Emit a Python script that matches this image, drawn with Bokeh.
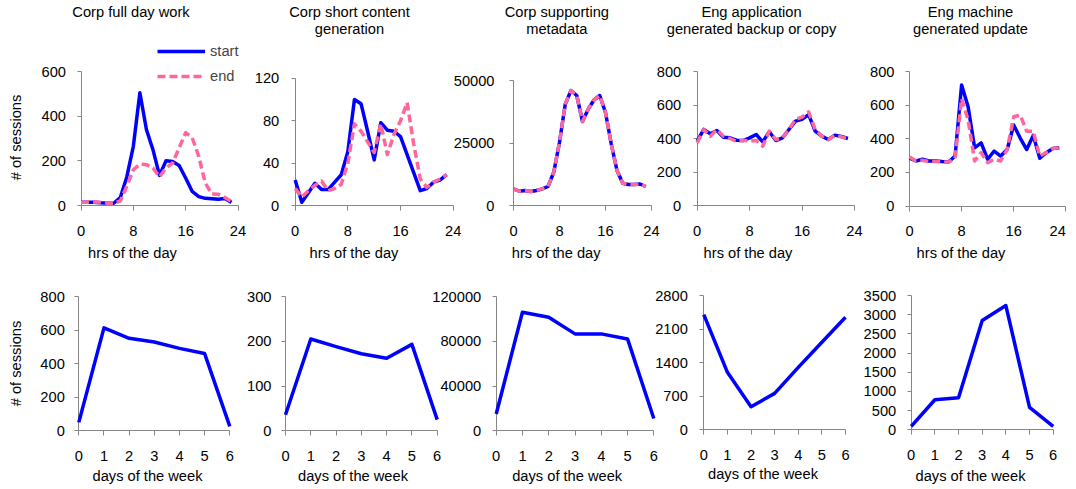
import math
from bokeh.plotting import figure
from bokeh.models import (Label, Legend, LegendItem, FixedTicker, BasicTickFormatter,
                          Range1d, LinearAxis)
from bokeh.embed import file_html
from bokeh.resources import INLINE

# ---------------- data ----------------
hours = list(range(24))
days = list(range(7))

titles = [
    ["Corp full day work"],
    ["Corp short content", "generation"],
    ["Corp supporting", "metadata"],
    ["Eng application", "generated backup or copy"],
    ["Eng machine", "generated update"],
]
x_title_top = "hrs of the day"
x_title_bottom = "days of the week"
y_title = "# of sessions"
legend_labels = ["start", "end"]

full_start = [15, 15, 15, 12, 10, 10, 35, 128, 265, 505, 340, 250, 135, 200, 197, 179, 123, 63, 40, 32, 30, 28, 31, 14]
full_end = [14, 15, 16, 15, 10, 10, 20, 86, 160, 185, 183, 168, 128, 168, 190, 258, 326, 303, 220, 100, 52, 50, 36, 18]

short_start = [24, 3, 12, 21, 15, 15, 22, 29, 51, 100, 96, 70, 43, 78, 71, 70, 65, 48, 31, 14, 16, 22, 24, 29]
short_end = [16, 8, 14, 19, 23, 14, 16, 20, 40, 77, 70, 60, 50, 77, 48, 67, 80, 97, 58, 25, 17, 22, 25, 29]

meta_start = [6650, 5700, 6000, 5600, 6000, 6650, 7600, 13300, 25300, 40500, 46000, 44000, 33600, 38600, 42200, 44000, 37200, 24600, 14000, 8900, 8400, 8400, 8600, 7600]
meta_end = [6650, 5700, 6000, 5600, 6000, 6650, 7600, 13300, 25300, 40500, 46000, 44000, 33600, 38600, 42200, 44000, 37200, 24600, 14000, 8900, 8400, 8400, 8600, 7600]

backup_start = [384, 454, 428, 448, 408, 404, 390, 388, 404, 424, 380, 440, 388, 404, 454, 504, 514, 543, 444, 414, 394, 420, 412, 400]
backup_end = [374, 454, 414, 454, 414, 400, 384, 390, 384, 388, 354, 444, 394, 404, 454, 514, 528, 559, 454, 414, 394, 418, 410, 398]

update_start = [284, 268, 278, 268, 268, 264, 262, 297, 720, 590, 346, 375, 278, 327, 297, 336, 482, 404, 336, 420, 284, 317, 342, 346]
update_end = [292, 268, 272, 264, 264, 262, 262, 284, 638, 512, 268, 317, 258, 278, 268, 336, 531, 541, 444, 444, 297, 317, 342, 346]

dow_full = [50, 613, 551, 529, 491, 460, 26]
dow_short = [36, 205, 188, 172, 162, 193, 25]
dow_meta = [15000, 106000, 101500, 86600, 86600, 82100, 11000]
dow_backup = [2403, 1198, 481, 759, 1303, 1825, 2347]
dow_update = [87, 783, 836, 2847, 3238, 583, 87]

top_series = [(full_start, full_end), (short_start, short_end), (meta_start, meta_end),
              (backup_start, backup_end), (update_start, update_end)]
bottom_series = [dow_full, dow_short, dow_meta, dow_backup, dow_update]

top_yticks = [[0, 200, 400, 600], [0, 40, 80, 120], [0, 25000, 50000],
              [0, 200, 400, 600, 800], [0, 200, 400, 600, 800]]
bottom_yticks = [[0, 200, 400, 600, 800], [0, 100, 200, 300], [0, 40000, 80000, 120000],
                 [0, 700, 1400, 2100, 2800], [0, 500, 1000, 1500, 2000, 2500, 3000, 3500]]
hour_ticks = [0, 8, 16, 24]
day_ticks = [0, 1, 2, 3, 4, 5, 6]

# ---------------- style / layout constants (page pixels) ----------------
BLUE = "#0000FF"
PINK = "#FF6699"
AXIS = "#868686"
FONT = "Liberation Sans"
FS = "11pt"

C_LEFT, C_RIGHT, C_TOP, C_BOTTOM = 0, 1072, 0, 486   # canvas on the page
TEXT_SHIFT = 5   # rendered text sits this far below the requested baseline

top_FL = [80.5, 294.7, 513.0, 696.7, 909.0]
top_FR = [237.5, 452.7, 651.0, 854.0, 1065.3]
top_FT = [71.0, 77.7, 80.0, 71.0, 71.0]
top_FB = [205.0, 205.0, 205.0, 205.0, 205.5]
top_standoff = [11, 12, 15, 12, 11]
top_title_x = [130.5, 349.0, 556.3, 751.0, 970.0]
top_xlab_x = [132.0, 353.5, 555.7, 747.5, 960.5]

bot_FL = [78.3, 285.0, 495.7, 703.3, 910.7]
bot_FR = [229.3, 436.7, 653.3, 845.0, 1052.7]
bot_FT = [296.0, 296.0, 296.0, 295.0, 295.0]
bot_FB = [430.3, 430.3, 430.3, 429.3, 429.3]
bot_standoff = [10, 10, 11, 12, 11]
bot_xlab_x = [147.0, 352.5, 566.7, 762.5, 970.0]
bot_xlab_y = [480.5, 480.5, 480.5, 478.5, 480.5]

X_LABEL_STANDOFF = 15

p = figure(width=C_RIGHT - C_LEFT, height=C_BOTTOM - C_TOP,
           x_range=Range1d(C_LEFT, C_RIGHT), y_range=Range1d(C_BOTTOM, C_TOP),
           x_axis_type=None, y_axis_type=None, min_border=0, title=None,
           output_backend="svg", toolbar_location=None, tools="")
p.outline_line_color = None
p.background_fill_color = "white"
p.border_fill_color = "white"

extra_x = {}
extra_y = {}


def text_label(text, x, y, align="center", angle=0.0):
    # correct for the renderer's baseline placement (shift against the text's "down")
    if angle == 0.0:
        y = y - TEXT_SHIFT
    else:
        x = x - TEXT_SHIFT
    p.add_layout(Label(x=x, y=y, text=text, text_align=align, text_baseline="alphabetic",
                       angle=angle, text_font=FONT, text_font_size=FS, text_color="black"))


def panel(name, FL, FR, FT, FB, xmax, ymax, xticks, yticks, standoff, x_overrides=None):
    kx = (FR - FL) / xmax
    ky = (FB - FT) / ymax
    xn, yn = "x_" + name, "y_" + name
    extra_x[xn] = Range1d(-(FL - C_LEFT) / kx, xmax + (C_RIGHT - FR) / kx)
    extra_y[yn] = Range1d(-(C_BOTTOM - FB) / ky, ymax + (FT - C_TOP) / ky)
    xa = LinearAxis(x_range_name=xn, y_range_name=yn, fixed_location=0, bounds=(0, xmax),
                    ticker=FixedTicker(ticks=xticks))
    ya = LinearAxis(x_range_name=xn, y_range_name=yn, fixed_location=0, bounds=(0, ymax),
                    ticker=FixedTicker(ticks=yticks),
                    formatter=BasicTickFormatter(use_scientific=False))
    for ax in (xa, ya):
        ax.level = "underlay"
        ax.axis_line_color = AXIS
        ax.major_tick_line_color = AXIS
        ax.minor_tick_line_color = None
        ax.major_tick_in = 0
        ax.major_label_text_font = FONT
        ax.major_label_text_font_size = FS
        ax.major_label_text_color = "black"
    xa.major_tick_out = 5
    ya.major_tick_out = 4
    xa.major_label_standoff = X_LABEL_STANDOFF
    ya.major_label_standoff = standoff
    if x_overrides:
        xa.major_label_overrides = x_overrides
    p.add_layout(xa, "below")
    p.add_layout(ya, "left")
    return xn, yn


# ---- top row: hourly start/end ----
for i in range(5):
    xovr = {24: ""} if i == 4 else None
    xn, yn = panel("t%d" % i, top_FL[i], top_FR[i], top_FT[i], top_FB[i], 24,
                   top_yticks[i][-1], hour_ticks, top_yticks[i], top_standoff[i], xovr)
    s, e = top_series[i]
    r1 = p.line(hours, s, line_color=BLUE, line_width=3.5, line_join="round",
                x_range_name=xn, y_range_name=yn)
    r2 = p.line(hours, e, line_color=PINK, line_width=3.5, line_dash="8 4",
                line_join="round", x_range_name=xn, y_range_name=yn)
    for k, line in enumerate(titles[i]):
        text_label(line, top_title_x[i], 16.7 + 16.6 * k)
    text_label(x_title_top, top_xlab_x[i], 257.5)
    if i == 0:
        legend = Legend(items=[LegendItem(label=legend_labels[0], renderers=[r1]),
                               LegendItem(label=legend_labels[1], renderers=[r2])],
                        location=(157 - C_LEFT, C_BOTTOM - 86), glyph_width=48,
                        glyph_height=20, label_height=20, label_standoff=5, spacing=5,
                        padding=0, margin=0, border_line_color=None,
                        background_fill_alpha=0, label_text_font=FONT,
                        label_text_font_size=FS)
        p.add_layout(legend)
    if i == 4:
        text_label("24", top_FR[i], 235.0, align="right")

text_label(y_title, 20.7, 137.0, angle=math.pi / 2)

# ---- bottom row: day of week ----
for i in range(5):
    xn, yn = panel("b%d" % i, bot_FL[i], bot_FR[i], bot_FT[i], bot_FB[i], 6,
                   bottom_yticks[i][-1], day_ticks, bottom_yticks[i], bot_standoff[i])
    p.line(days, bottom_series[i], line_color=BLUE, line_width=3.5, line_join="round",
           x_range_name=xn, y_range_name=yn)
    text_label(x_title_bottom, bot_xlab_x[i], bot_xlab_y[i])

text_label(y_title, 20.7, 363.0, angle=math.pi / 2)

p.extra_x_ranges = extra_x
p.extra_y_ranges = extra_y

open("out.html", "w").write(file_html(p, INLINE))
